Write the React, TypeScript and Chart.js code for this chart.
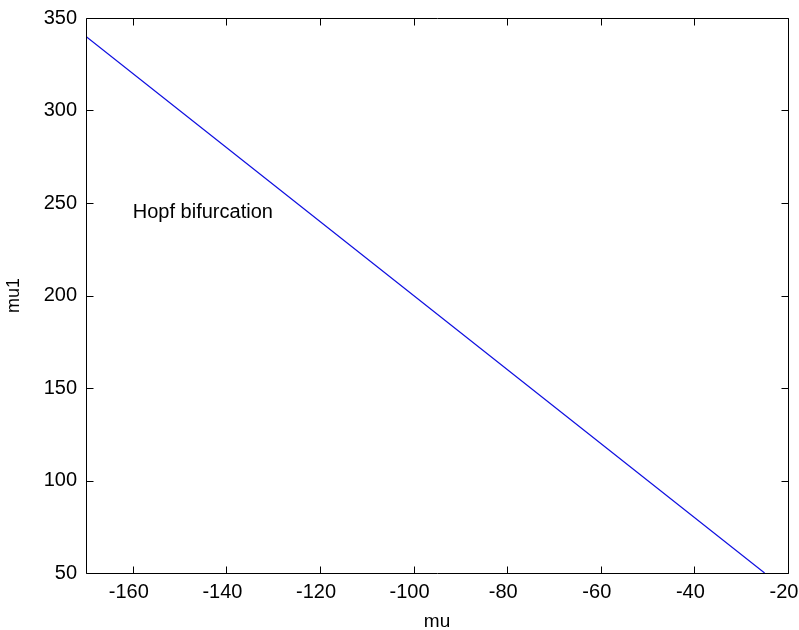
import React, { useEffect, useRef } from "react";
import { Chart, registerables } from "chart.js";

Chart.register(...registerables);

// Data
const muValues = [-170, -150, -130, -110, -90, -70, -50, -25];
const mu1Values = [340, 300, 260, 220, 180, 140, 100, 50];
const xTicks = [-160, -140, -120, -100, -80, -60, -40, -20];
const yTicks = [50, 100, 150, 200, 250, 300, 350];
const xRange = [-170, -20];
const yRange = [50, 350];
const annotationText = "Hopf bifurcation";
const annotationPos = [-160, 245];
const xLabel = "mu";
const yLabel = "mu1";

const FONT = "'Liberation Sans', Arial, sans-serif";

const matlabBox = {
  id: "matlabBox",
  afterDatasetsDraw(chart: any) {
    const { ctx, chartArea, scales } = chart;
    const { left, right, top, bottom } = chartArea;
    const xs = scales.x;
    const ys = scales.y;
    const tl = 7;
    ctx.save();
    ctx.strokeStyle = "#000";
    ctx.lineWidth = 1;
    ctx.beginPath();
    const L = Math.round(left) + 0.5;
    const R = Math.round(right) + 0.5;
    const T = Math.round(top) + 0.5;
    const B = Math.round(bottom) + 0.5;
    ctx.rect(L, T, R - L, B - T);
    for (const v of xTicks) {
      const px = Math.round(xs.getPixelForValue(v)) + 0.5;
      ctx.moveTo(px, B);
      ctx.lineTo(px, B - tl);
      ctx.moveTo(px, T);
      ctx.lineTo(px, T + tl);
    }
    for (const v of yTicks) {
      const py = Math.round(ys.getPixelForValue(v)) + 0.5;
      ctx.moveTo(L, py);
      ctx.lineTo(L + tl, py);
      ctx.moveTo(R, py);
      ctx.lineTo(R - tl, py);
    }
    ctx.stroke();
    // annotation text
    ctx.fillStyle = "#000";
    ctx.font = `20px ${FONT}`;
    ctx.textAlign = "left";
    ctx.textBaseline = "middle";
    ctx.fillText(
      annotationText,
      xs.getPixelForValue(annotationPos[0]),
      ys.getPixelForValue(annotationPos[1])
    );
    ctx.restore();
  },
};

export default function App() {
  const ref = useRef<HTMLCanvasElement | null>(null);
  useEffect(() => {
    document.body.style.margin = "0";
    document.body.style.background = "#fff";
    const canvas = ref.current!;
    const chart = new Chart(canvas, {
      type: "scatter",
      data: {
        datasets: [
          {
            data: muValues.map((x, i) => ({ x, y: mu1Values[i] })),
            showLine: true,
            borderColor: "#1010e0",
            backgroundColor: "#1010e0",
            borderWidth: 1.2,
            pointRadius: 0,
            tension: 0,
          },
        ],
      },
      options: {
        responsive: false,
        animation: false,
        devicePixelRatio: 1,
        layout: { padding: { top: 18, right: 11, left: 0, bottom: 0 } },
        plugins: {
          legend: { display: false },
          tooltip: { enabled: false },
        },
        scales: {
          x: {
            type: "linear",
            min: xRange[0],
            max: xRange[1],
            grid: { display: false, drawTicks: false },
            border: { display: false },
            afterBuildTicks: (s: any) => {
              s.ticks = xTicks.map((v) => ({ value: v }));
            },
            afterFit: (s: any) => {
              s.height = 57;
              s.paddingLeft = 0;
              s.paddingRight = 0;
            },
            ticks: {
              color: "#000",
              font: { family: FONT, size: 20 },
              padding: 7,
              labelOffset: -4,
              maxRotation: 0,
              autoSkip: false,
            },
            title: {
              display: true,
              text: xLabel,
              color: "#000",
              font: { family: FONT, size: 19, lineHeight: 0.9 },
              padding: { top: 0, bottom: 0 },
            },
          },
          y: {
            type: "linear",
            min: yRange[0],
            max: yRange[1],
            grid: { display: false, drawTicks: false },
            border: { display: false },
            afterBuildTicks: (s: any) => {
              s.ticks = yTicks.map((v) => ({ value: v }));
            },
            afterFit: (s: any) => {
              s.width = 86;
              s.paddingTop = 0;
              s.paddingBottom = 0;
            },
            ticks: {
              color: "#000",
              font: { family: FONT, size: 20 },
              padding: 9,
              autoSkip: false,
            },
            title: {
              display: true,
              text: yLabel,
              color: "#000",
              font: { family: FONT, size: 18, lineHeight: 1 },
              padding: { top: 5, bottom: 0 },
            },
          },
        },
      },
      plugins: [matlabBox],
    });
    return () => chart.destroy();
  }, []);
  return (
    <canvas
      ref={ref}
      width={799}
      height={630}
      style={{ display: "block", width: 799, height: 630 }}
    />
  );
}
